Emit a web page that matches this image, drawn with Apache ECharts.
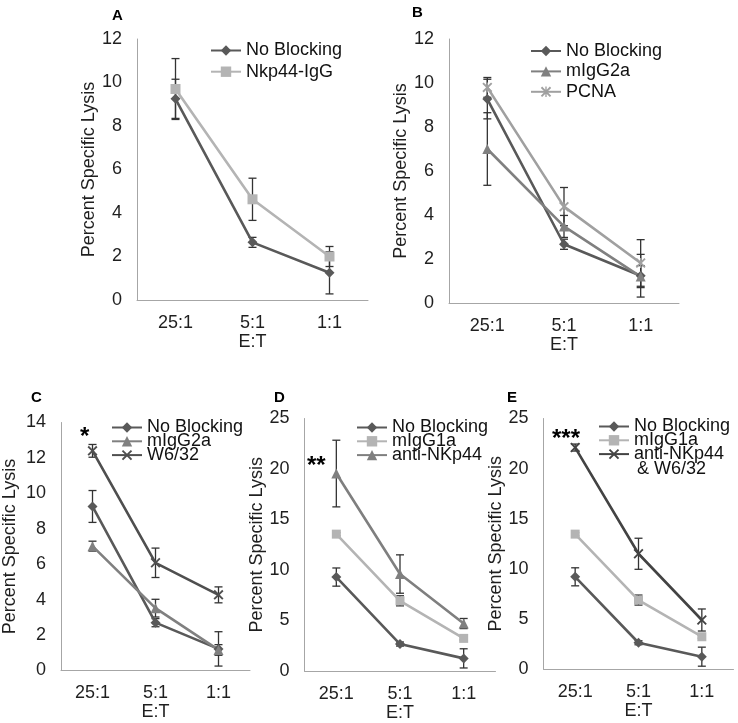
<!DOCTYPE html>
<html>
<head>
<meta charset="utf-8">
<script src="https://cdn.jsdelivr.net/npm/echarts@6/dist/echarts.min.js"></script>
<style>html,body{margin:0;padding:0;background:#fff;}#chart{width:738px;height:723px;}</style>
</head>
<body>
<div id="chart"></div>
<script>
// ---------- data ----------
const categories = ['25:1', '5:1', '1:1'];
const yTicksAB = [0, 12, 2];   // min, max, interval
const yTicksC = [0, 14, 2];
const yTicksDE = [0, 25, 5];

// Panel A
const noBlockA = [9.25, 2.65, 1.25];
const noBlockA_err = [0.9, 0.23, 0.97];
const nkp44IgGA = [9.7, 4.63, 2.0];
const nkp44IgGA_err = [1.4, 0.97, 0.46];

// Panel B
const noBlockB = [9.27, 2.67, 1.24];
const noBlockB_err = [0.9, 0.23, 0.97];
const mIgG2aB = [7.0, 3.48, 1.2];
const mIgG2aB_err = [1.65, 0.5, 0.5];
const pcnaB = [9.8, 4.38, 1.82];
const pcnaB_err = [0.45, 0.87, 1.06];

// Panel C
const noBlockC = [9.26, 2.7, 1.22];
const noBlockC_err = [0.9, 0.23, 0.97];
const mIgG2aC = [7.02, 3.52, 1.16];
const mIgG2aC_err = [0.28, 0.5, 0.3];
const w632C = [12.4, 6.08, 4.27];
const w632C_err = [0.36, 0.83, 0.45];

// Panel D
const noBlockD = [9.3, 2.67, 1.25];
const noBlockD_err = [0.9, 0.2, 0.95];
const mIgG1aD = [13.55, 6.95, 3.23];
const mIgG1aD_err = [0.15, 0.5, 0.15];
const antiNKp44D = [19.55, 9.6, 4.7];
const antiNKp44D_err = [3.3, 1.9, 0.5];

// Panel E
const noBlockE = [9.2, 2.62, 1.23];
const noBlockE_err = [0.9, 0.2, 0.95];
const mIgG1aE = [13.46, 6.88, 3.22];
const mIgG1aE_err = [0.15, 0.5, 0.15];
const antiBothE = [22.1, 11.5, 4.89];
const antiBothE_err = [0.35, 1.55, 1.1];

// ---------- styling ----------
const FONT = "'Liberation Sans', Arial, Helvetica, sans-serif";
const X_PATH = 'path://M0,1.3L1.3,0L5,3.7L8.7,0L10,1.3L6.3,5L10,8.7L8.7,10L5,6.3L1.3,10L0,8.7L3.7,5Z';
const STAR_PATH = 'path://M0,1.3L1.3,0L5,3.7L8.7,0L10,1.3L6.3,5L10,8.7L8.7,10L5,6.3L1.3,10L0,8.7L3.7,5Z M4.35,0L5.65,0L5.65,10L4.35,10Z';

const styles = {
  nb:   {color: '#595959', symbol: 'diamond', size: 10},
  nkp:  {color: '#b4b4b4', symbol: 'rect', size: 10},
  m2a:  {color: '#808080', symbol: 'triangle', size: 10},
  pcna: {color: '#a0a0a0', symbol: STAR_PATH, size: 10},
  w6:   {color: '#4f4f4f', symbol: X_PATH, size: 10},
  m1a:  {color: '#b4b4b4', symbol: 'rect', size: 9},
  anti: {color: '#7f7f7f', symbol: 'triangle', size: 10},
  both: {color: '#434343', symbol: X_PATH, size: 10}
};

// panel geometry
const panels = [
  {left: 137, top: 39, width: 231, height: 261, yt: yTicksAB, nameGap: 34},
  {left: 449, top: 39, width: 230, height: 264, yt: yTicksAB, nameGap: 34},
  {left: 60, top: 422.5, width: 190, height: 248, yt: yTicksC, nameGap: 42},
  {left: 304.5, top: 418.5, width: 191, height: 252.5, yt: yTicksDE, nameGap: 34},
  {left: 543.5, top: 418.5, width: 190, height: 250.5, yt: yTicksDE, nameGap: 35}
];

const grid = [], xAxis = [], yAxis = [];
panels.forEach((p, i) => {
  grid.push({left: p.left, top: p.top, width: p.width, height: p.height, containLabel: false});
  xAxis.push({
    type: 'category', gridIndex: i, data: categories, boundaryGap: true,
    axisLine: {lineStyle: {color: '#a6a6a6', width: 1}},
    axisTick: {show: false},
    axisLabel: {color: '#1f1f1f', fontSize: 18, fontFamily: FONT, margin: 14},
    name: 'E:T', nameLocation: 'middle', nameGap: 31,
    nameTextStyle: {color: '#1f1f1f', fontSize: 18, fontFamily: FONT}
  });
  yAxis.push({
    type: 'value', gridIndex: i, min: p.yt[0], max: p.yt[1], interval: p.yt[2],
    axisLine: {show: true, lineStyle: {color: '#a6a6a6', width: 1}},
    axisTick: {show: false},
    splitLine: {show: false},
    axisLabel: {color: '#1f1f1f', fontSize: 18, fontFamily: FONT, margin: 15},
    name: 'Percent Specific Lysis', nameLocation: 'middle', nameRotate: 90, nameGap: p.nameGap,
    nameTextStyle: {color: '#1f1f1f', fontSize: 18, fontFamily: FONT}
  });
});

const series = [];
function addLine(panel, name, values, errs, st) {
  series.push({
    type: 'line', name: name, xAxisIndex: panel, yAxisIndex: panel,
    data: values, symbol: st.symbol, symbolSize: st.size,
    itemStyle: {color: st.color}, lineStyle: {color: st.color, width: 2.6},
    emphasis: {disabled: true}, z: 2
  });
  series.push({
    type: 'custom', name: name + ' (error)', xAxisIndex: panel, yAxisIndex: panel,
    data: values.map((v, k) => [k, v - errs[k], v + errs[k]]),
    encode: {x: 0, y: [1, 2]}, z: 1, silent: true,
    renderItem: function (params, api) {
      const x = api.value(0);
      const lo = api.coord([x, api.value(1)]);
      const hi = api.coord([x, api.value(2)]);
      const w = 4;
      const s = {stroke: '#333333', lineWidth: 1.3};
      return {type: 'group', children: [
        {type: 'line', shape: {x1: hi[0], y1: hi[1], x2: lo[0], y2: lo[1]}, style: s},
        {type: 'line', shape: {x1: hi[0] - w, y1: hi[1], x2: hi[0] + w, y2: hi[1]}, style: s},
        {type: 'line', shape: {x1: lo[0] - w, y1: lo[1], x2: lo[0] + w, y2: lo[1]}, style: s}
      ]};
    }
  });
}

addLine(0, 'No Blocking', noBlockA, noBlockA_err, styles.nb);
addLine(0, 'Nkp44-IgG', nkp44IgGA, nkp44IgGA_err, styles.nkp);

addLine(1, 'No Blocking', noBlockB, noBlockB_err, styles.nb);
addLine(1, 'mIgG2a', mIgG2aB, mIgG2aB_err, styles.m2a);
addLine(1, 'PCNA', pcnaB, pcnaB_err, styles.pcna);

addLine(2, 'No Blocking', noBlockC, noBlockC_err, styles.nb);
addLine(2, 'mIgG2a', mIgG2aC, mIgG2aC_err, styles.m2a);
addLine(2, 'W6/32', w632C, w632C_err, styles.w6);

addLine(3, 'No Blocking', noBlockD, noBlockD_err, styles.nb);
addLine(3, 'mIgG1a', mIgG1aD, mIgG1aD_err, styles.m1a);
addLine(3, 'anti-NKp44', antiNKp44D, antiNKp44D_err, styles.anti);

addLine(4, 'No Blocking', noBlockE, noBlockE_err, styles.nb);
addLine(4, 'mIgG1a', mIgG1aE, mIgG1aE_err, styles.m1a);
addLine(4, 'anti-NKp44\n & W6/32', antiBothE, antiBothE_err, styles.both);

function legend(names, left, top, gap) {
  return {
    orient: 'vertical', left: left, top: top, padding: 0, itemGap: gap,
    itemWidth: 30, itemHeight: 13, selectedMode: false,
    data: names,
    formatter: n => n.split('\n')[0],
    textStyle: {fontSize: 18, fontFamily: FONT, color: '#111', lineHeight: 14}
  };
}

const letterStyle = {fontSize: 15, fontWeight: 'bold', fontFamily: FONT, color: '#000'};
const option = {
  animation: false,
  backgroundColor: '#fff',
  title: [
    {text: 'A', left: 112, top: 8, padding: 0, textStyle: letterStyle},
    {text: 'B', left: 412, top: 5, padding: 0, textStyle: letterStyle},
    {text: 'C', left: 31, top: 390, padding: 0, textStyle: letterStyle},
    {text: 'D', left: 274, top: 390, padding: 0, textStyle: letterStyle},
    {text: 'E', left: 507, top: 390, padding: 0, textStyle: letterStyle}
  ],
  grid: grid, xAxis: xAxis, yAxis: yAxis, series: series,
  legend: [
    legend(['No Blocking', 'Nkp44-IgG'], 210, 41.5, 3.2),
    legend(['No Blocking', 'mIgG2a', 'PCNA'], 530, 42, 2.4),
    legend(['No Blocking', 'mIgG2a', 'W6/32'], 111, 418.5, -4.2),
    legend(['No Blocking', 'mIgG1a', 'anti-NKp44'], 356, 418.5, -4.2),
    legend(['No Blocking', 'mIgG1a', 'anti-NKp44\n & W6/32'], 598, 417.5, -4.2)
  ],
  graphic: [
    {type: 'text', left: 80, top: 425, style: {text: '*', fontSize: 24, fontWeight: 'bold', fontFamily: FONT, fill: '#000'}},
    {type: 'text', left: 307, top: 454, style: {text: '**', fontSize: 24, fontWeight: 'bold', fontFamily: FONT, fill: '#000'}},
    {type: 'text', left: 552, top: 427, style: {text: '***', fontSize: 24, fontWeight: 'bold', fontFamily: FONT, fill: '#000'}},
    {type: 'text', left: 637, top: 460, style: {text: '& W6/32', fontSize: 18, fontFamily: FONT, fill: '#111'}}
  ]
};

const chart = echarts.init(document.getElementById('chart'), null, {renderer: 'canvas'});
chart.setOption(option);
</script>
</body>
</html>
